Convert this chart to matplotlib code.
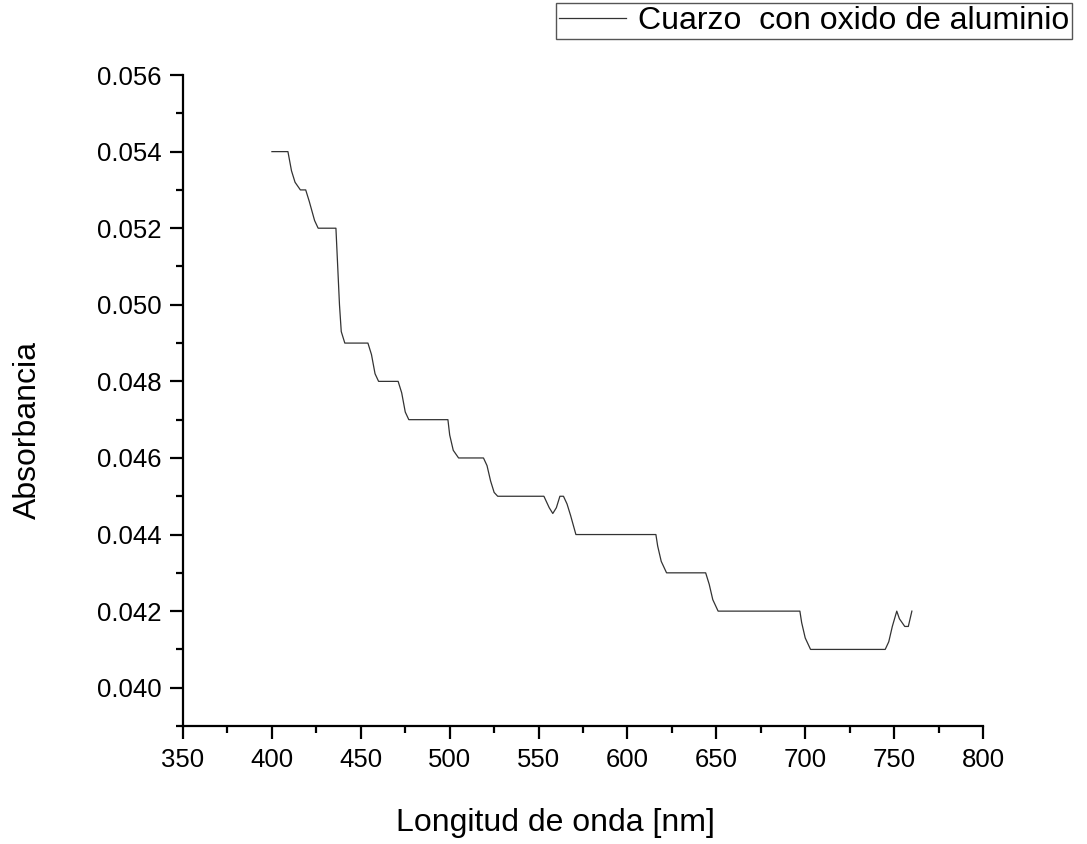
import matplotlib.pyplot as plt
from matplotlib.ticker import MultipleLocator

plt.rcParams['font.family'] = ['Liberation Sans', 'DejaVu Sans']

# wavelength [nm] and absorbance
wavelength = [400, 409, 411, 413, 416, 419, 421, 424, 426, 436, 437, 438, 439, 441,
              454, 456, 458, 460, 471, 473, 475, 477, 499, 500, 502, 505,
              519, 521, 523, 525, 527, 553, 556, 558, 560, 562, 564, 566, 568, 571,
              616, 617, 619, 622, 644, 646, 648, 651, 697, 698, 700, 703,
              745, 747, 749, 751.5, 753, 756, 758, 760]
absorbance = [0.0540, 0.0540, 0.0535, 0.0532, 0.0530, 0.0530, 0.0527, 0.0522, 0.0520, 0.0520,
              0.0510, 0.0500, 0.0493, 0.0490,
              0.0490, 0.0487, 0.0482, 0.0480, 0.0480, 0.0477, 0.0472, 0.0470, 0.0470, 0.0466,
              0.0462, 0.0460,
              0.0460, 0.0458, 0.0454, 0.0451, 0.0450, 0.0450, 0.0447, 0.04455, 0.0447, 0.0450,
              0.0450, 0.0448, 0.0445, 0.0440,
              0.0440, 0.0437, 0.0433, 0.0430, 0.0430, 0.0427, 0.0423, 0.0420, 0.0420, 0.0417,
              0.0413, 0.0410,
              0.0410, 0.0412, 0.0416, 0.0420, 0.0418, 0.0416, 0.0416, 0.0420]

fig = plt.figure(figsize=(10.87, 8.44), dpi=100)
ax = fig.add_axes([0.1684, 0.1398, 0.7359, 0.7713])

ax.plot(wavelength, absorbance, color='#333333', lw=0.9, label='Cuarzo  con oxido de aluminio')

ax.set_xlim(350, 800)
ax.set_ylim(0.039, 0.056)
ax.xaxis.set_major_locator(MultipleLocator(50))
ax.xaxis.set_minor_locator(MultipleLocator(25))
ax.yaxis.set_minor_locator(MultipleLocator(0.001))
ax.set_yticks([0.040, 0.042, 0.044, 0.046, 0.048, 0.050, 0.052, 0.054, 0.056])
ax.set_yticklabels(['%.3f' % v for v in ax.get_yticks()])

for s in ['top', 'right']:
    ax.spines[s].set_visible(False)
for s in ['left', 'bottom']:
    ax.spines[s].set_linewidth(1.6)

ax.tick_params(which='major', direction='out', length=9.5, width=1.6, labelsize=18.5, pad=6)
ax.tick_params(which='minor', direction='out', length=5, width=1.6)

fig.text(555 / 1087, 1 - 823 / 844, 'Longitud de onda [nm]', fontsize=23, ha='center', va='center')
fig.text(28 / 1087, 1 - 430 / 844, 'Absorbancia', fontsize=23, rotation=90, ha='center', va='center')

leg = ax.legend(loc='upper right', bbox_to_anchor=(1072 / 1087, 1 - 3 / 844),
                bbox_transform=fig.transFigure, fontsize=23, frameon=True, fancybox=False,
                handlelength=2.1, handletextpad=0.35, borderpad=0.1, borderaxespad=0,
                framealpha=1)
leg.get_frame().set_edgecolor('#555555')
leg.get_frame().set_linewidth(1.0)

fig.savefig('out.png', dpi=100)
